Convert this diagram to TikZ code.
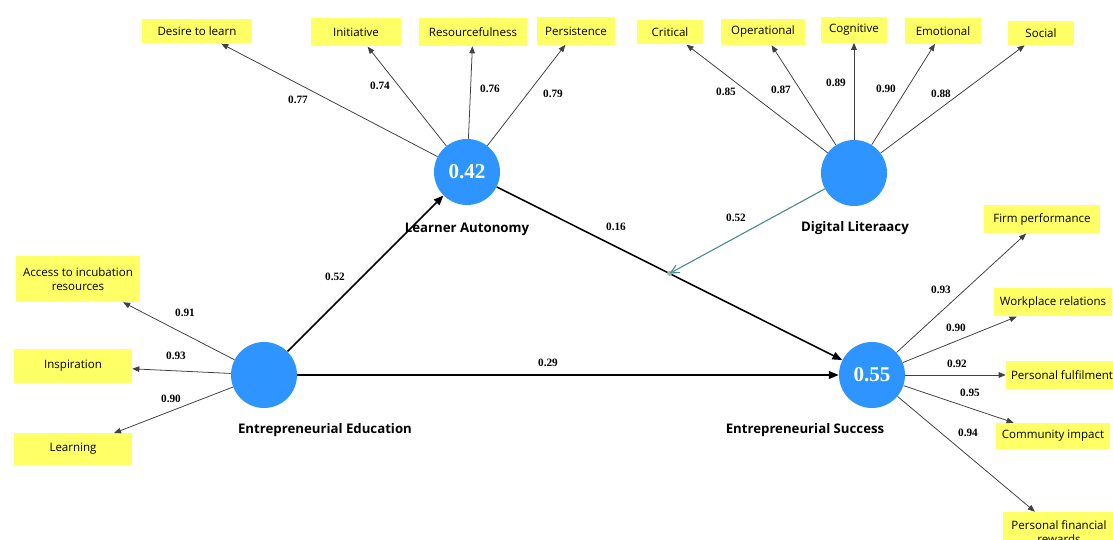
\documentclass[tikz,border=0pt]{standalone}
\usepackage{fontspec}
\setmainfont{Liberation Serif}
\setsansfont{Open Sans}
\usepackage{tikz}
\usetikzlibrary{arrows.meta,calc}
\definecolor{lvblue}{HTML}{2E94FF}
\definecolor{itemyellow}{HTML}{FFFF66}
\definecolor{modteal}{HTML}{4F8C8C}

\begin{document}
\begin{tikzpicture}[x=0.025cm,y=-0.025cm,
  latent/.style={circle,fill=lvblue,minimum size=1.65cm,inner sep=0pt,
    text=white,font=\bfseries\fontsize{15}{16}\selectfont},
  item/.style={fill=itemyellow,inner sep=2pt,align=center,
    font=\sffamily\fontsize{8.2}{9.6}\selectfont},
  lvname/.style={font=\sffamily\bfseries\fontsize{9.4}{11}\selectfont},
  coef/.style={font=\bfseries\fontsize{8}{9}\selectfont},
  load/.style={draw=black!75,line width=0.55pt,-{Triangle[length=5pt,width=4pt]}},
  effect/.style={draw=black,line width=1.1pt,-{Triangle[length=7pt,width=5.5pt]}}]
\clip (0,0) rectangle (1113,540);
\fill[white] (0,0) rectangle (1113,540);

% latent variables
\node[latent] (LA) at (467,172) {0.42};
\node[latent] (DL) at (854,173) {};
\node[latent] (EE) at (264,375) {};
\node[latent] (ES) at (872,375) {0.55};
\node[lvname] (LAname) at (467,229) {Learner Autonomy};
\node[lvname] (DLname) at (855,228) {Digital Literaacy};
\node[lvname] (EEname) at (325,430) {Entrepreneurial Education};
\node[lvname] (ESname) at (805,430) {Entrepreneurial Success};

% indicators
\node[item,minimum width=2.73cm,minimum height=0.62cm] (desire) at (197,31) {Desire to learn};
\node[item,minimum width=2.23cm,minimum height=0.72cm] (initiative) at (356,32) {Initiative};
\node[item,minimum width=2.7cm,minimum height=0.7cm] (resource) at (473,32) {Resourcefulness};
\node[item,minimum width=1.93cm,minimum height=0.68cm] (persist) at (576,31) {Persistence};
\node[item,minimum width=1.63cm,minimum height=0.62cm] (critical) at (670,32) {Critical};
\node[item,minimum width=2.1cm,minimum height=0.65cm] (operational) at (763,32) {Operational};
\node[item,minimum width=1.65cm,minimum height=0.63cm] (cognitive) at (854,30) {Cognitive};
\node[item,minimum width=1.9cm,minimum height=0.63cm] (emotional) at (943,31) {Emotional};
\node[item,minimum width=1.63cm,minimum height=0.6cm] (social) at (1041,33) {Social};
\node[item,minimum width=3.08cm,minimum height=1.15cm] (access) at (78,279) {Access to incubation\\resources};
\node[item,minimum width=2.95cm,minimum height=0.85cm] (inspire) at (73,366) {Inspiration};
\node[item,minimum width=2.95cm,minimum height=0.78cm] (learning) at (73,449) {Learning};
\node[item,minimum width=2.88cm,minimum height=0.72cm] (firm) at (1042,219) {Firm performance};
\node[item,minimum width=2.93cm,minimum height=0.72cm] (workplace) at (1053,302) {Workplace relations};
\node[item,minimum width=2.8cm,minimum height=0.68cm] (fulfil) at (1062,375) {Personal fulfilment};
\node[item,minimum width=2.85cm,minimum height=0.65cm] (community) at (1053,436) {Community impact};
\node[item,minimum width=2.8cm,minimum height=1cm] (financial) at (1059,532) {Personal financial\\rewards};

% outer loadings
\draw[load] (LA) -- (desire);
\draw[load] (LA) -- (initiative);
\draw[load] (LA) -- (resource);
\draw[load] (LA) -- (persist);
\draw[load] (DL) -- (critical);
\draw[load] (DL) -- (operational);
\draw[load] (DL) -- (cognitive);
\draw[load] (DL) -- (emotional);
\draw[load] (DL) -- (social);
\draw[load] (EE) -- (access);
\draw[load] (EE) -- (inspire);
\draw[load] (EE) -- (learning);
\draw[load] (ES) -- (firm);
\draw[load] (ES) -- (workplace);
\draw[load] (ES) -- (fulfil);
\draw[load] (ES) -- (community);
\draw[load] (ES) -- (financial);

% structural paths
\draw[effect] (EE) -- (LA);
\draw[effect] (LA) -- (ES);
\draw[effect] (EE) -- (ES);
\coordinate (mod) at ($(LA)!0.5!(ES)$);
\fill[gray!60] (mod) circle (2.5);
\draw[modteal,line width=0.8pt,-{Straight Barb[length=6pt,width=6pt]}] (DL) -- (mod);

% coefficients
\node[coef] at (298,100) {0.77};
\node[coef] at (380,86) {0.74};
\node[coef] at (490,89) {0.76};
\node[coef] at (553,94) {0.79};
\node[coef] at (726,92) {0.85};
\node[coef] at (781,90) {0.87};
\node[coef] at (836,83) {0.89};
\node[coef] at (886,89) {0.90};
\node[coef] at (941,94) {0.88};
\node[coef] at (185,313) {0.91};
\node[coef] at (176,356) {0.93};
\node[coef] at (171,399) {0.90};
\node[coef] at (941,290) {0.93};
\node[coef] at (956,328) {0.90};
\node[coef] at (957,364) {0.92};
\node[coef] at (970,393) {0.95};
\node[coef] at (968,433) {0.94};
\node[coef] at (335,277) {0.52};
\node[coef] at (616,227) {0.16};
\node[coef] at (548,363) {0.29};
\node[coef] at (736,218) {0.52};
\end{tikzpicture}
\end{document}
